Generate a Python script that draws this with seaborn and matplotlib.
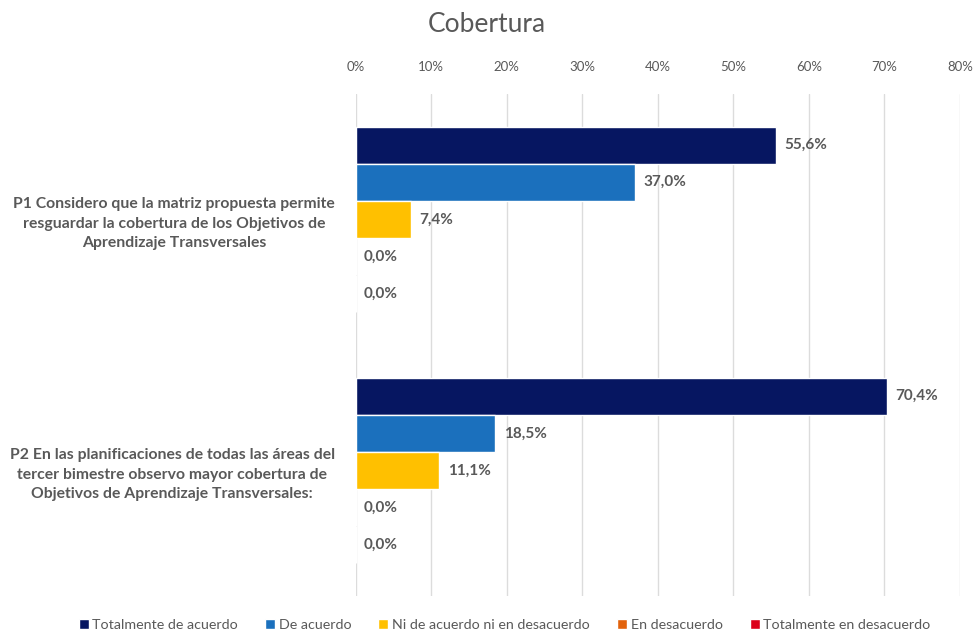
import numpy as np
import pandas as pd
import seaborn as sns
import matplotlib.pyplot as plt
from matplotlib.patches import Patch

# data
preguntas = [
    "P1 Considero que la matriz propuesta permite\nresguardar la cobertura de los Objetivos de\nAprendizaje Transversales",
    "P2 En las planificaciones de todas las áreas del\ntercer bimestre observo mayor cobertura de\nObjetivos de Aprendizaje Transversales:",
]
respuestas = ["Totalmente de acuerdo", "De acuerdo", "Ni de acuerdo ni en desacuerdo",
              "En desacuerdo", "Totalmente en desacuerdo"]
p1_vals = [55.6, 37.0, 7.4, 0.0, 0.0]
p2_vals = [70.4, 18.5, 11.1, 0.0, 0.0]
colores = ["#061661", "#1b70bd", "#ffc000", "#e2620c", "#dc0019"]

rows = []
for preg, vals in zip(preguntas, [p1_vals, p2_vals]):
    for r, v in zip(respuestas, vals):
        rows.append({"Pregunta": preg, "Respuesta": r, "Valor": v})
df = pd.DataFrame(rows)

sns.set_style("white")
plt.rcParams['font.family'] = ['Lato', 'DejaVu Sans']

fig = plt.figure(figsize=(9.74, 6.39), dpi=100)
ax = fig.add_axes([0.365, 0.0673, 0.6205, 0.7857])

sns.barplot(data=df, y="Pregunta", x="Valor", hue="Respuesta", hue_order=respuestas,
            palette=colores, orient="h", width=0.74, ax=ax, legend=False,
            saturation=1)

gris = "#595959"
for cont in ax.containers:
    labs = [f"{b.get_width():.1f}%".replace(".", ",") for b in cont]
    ax.bar_label(cont, labels=labs, padding=6, fontsize=11, fontweight="bold", color=gris)

ax.set_xlim(0, 80)
ax.set_xticks(np.arange(0, 81, 10))
ax.set_xticklabels([f"{t}%" for t in range(0, 81, 10)], fontsize=9.5, color=gris)
ax.xaxis.tick_top()
ax.tick_params(axis="x", length=0, pad=15)
ax.tick_params(axis="y", length=0, pad=15)
ax.grid(axis="x", color="#dcdcdc", linewidth=1)
ax.set_axisbelow(True)
for s in ax.spines.values():
    s.set_visible(False)
ax.set_xlabel("")
ax.set_ylabel("")
for lab in ax.get_yticklabels():
    lab.set_fontsize(11.3)
    lab.set_fontweight("bold")
    lab.set_color(gris)
    lab.set_multialignment("center")
    lab.set_linespacing(1.5)

fig.suptitle("Cobertura", fontsize=19, color=gris, y=0.982)

handles = [Patch(facecolor=c, label=r) for c, r in zip(colores, respuestas)]
fig.legend(handles=handles, loc="lower center", bbox_to_anchor=(0.518, -0.008), ncol=5,
           frameon=False, fontsize=10.3, handlelength=0.7, handleheight=0.7,
           handletextpad=0.25, columnspacing=1.9, labelcolor=gris)

fig.savefig("out.png", dpi=100)
